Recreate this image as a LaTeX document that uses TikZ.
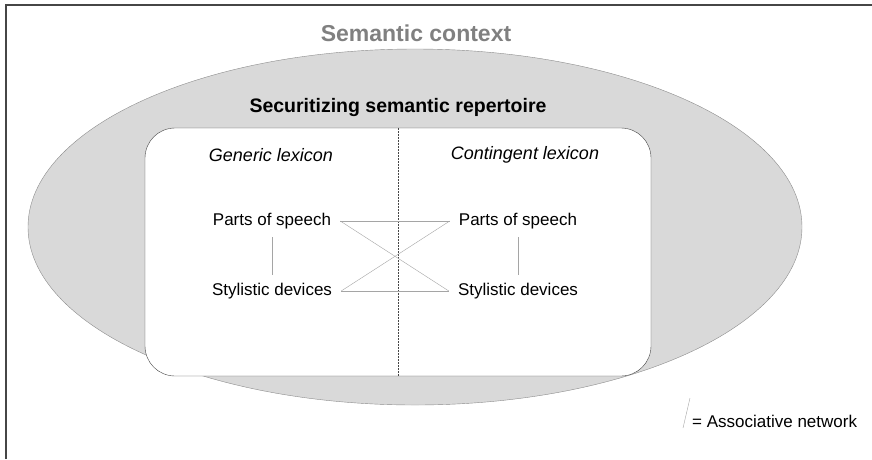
\documentclass[tikz,border=0pt]{standalone}
\usepackage{fontspec}
\setmainfont{Liberation Sans}
\usetikzlibrary{positioning}
\definecolor{ctxfill}{RGB}{217,217,217}
\definecolor{ctxline}{RGB}{140,140,140}
\definecolor{ctxtext}{RGB}{128,128,128}
\definecolor{netline}{RGB}{165,165,165}
\definecolor{frameline}{RGB}{70,70,70}

\begin{document}
\begin{tikzpicture}[x=1pt,y=-1pt,
  term/.style={font=\fontsize{17}{20}\selectfont,inner xsep=9pt,inner ysep=8pt},
  lexhead/.style={font=\fontsize{18}{21}\selectfont\itshape},
  assoc/.style={draw=netline,thin}]
  \useasboundingbox (0,0) rectangle (872,459);
  \draw[frameline,line width=2pt] (6,459) -- (6,5) -- (872,5);
  \draw[ctxline,fill=ctxfill] (415,227) ellipse [x radius=387,y radius=178];
  \node[text=ctxtext,font=\fontsize{23}{27}\selectfont\bfseries] (context) at (416,33) {Semantic context};
  \node[font=\fontsize{19.5}{23}\selectfont\bfseries] (title) at (398,107) {Securitizing semantic repertoire};
  \node[draw=frameline,fill=white,rounded corners=30pt,minimum width=506,minimum height=248] (repertoire) at (398,252) {};
  \draw[frameline,dash pattern=on 2pt off 1pt] (repertoire.north) -- (repertoire.south);
  \node[lexhead] (generic) at (271,155) {Generic lexicon};
  \node[lexhead] (contingent) at (525,155) {Contingent lexicon};
  \node[term] (gparts) at (272,221) {Parts of speech};
  \node[term] (gstyle) at (272,291) {Stylistic devices};
  \node[term] (cparts) at (518,221) {Parts of speech};
  \node[term] (cstyle) at (518,291) {Stylistic devices};
  \draw[assoc] (gparts) -- (gstyle);
  \draw[assoc] (cparts) -- (cstyle);
  \draw[assoc] (gparts.east) -- (cparts.west);
  \draw[assoc] (gstyle.east) -- (cstyle.west);
  \draw[assoc] (gparts.east) -- (cstyle.west);
  \draw[assoc] (gstyle.east) -- (cparts.west);
  % legend
  \coordinate (slashlow) at (683,428);
  \coordinate (slashhigh) at (690,398);
  \draw[assoc] (slashlow) -- (slashhigh);
  \node[term,anchor=west,inner xsep=0pt] (legend) at (692,421) {= Associative network};
\end{tikzpicture}
\end{document}
